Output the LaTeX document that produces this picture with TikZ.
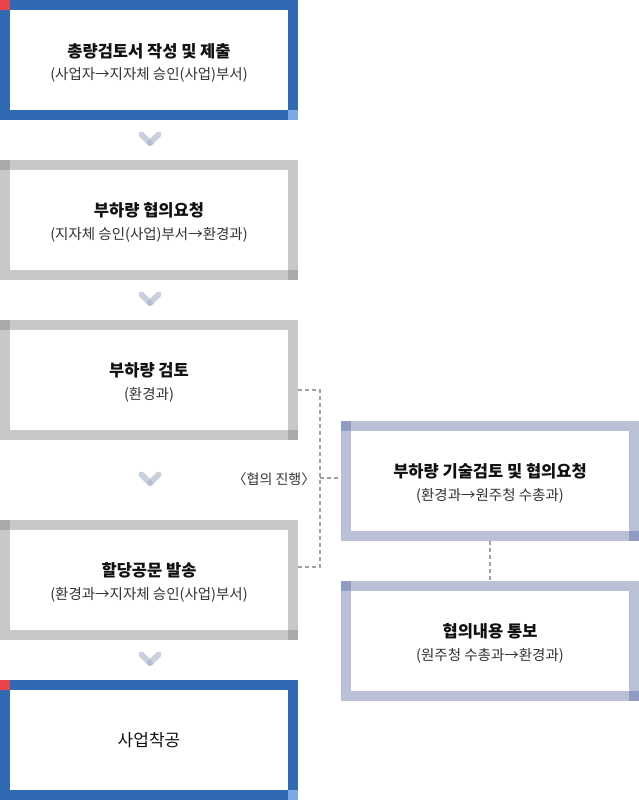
\documentclass[tikz,border=0pt]{standalone}
\usepackage{fontspec}
\setmainfont{Noto Sans CJK KR}
\usetikzlibrary{calc}
\definecolor{blueb}{HTML}{3169B3}
\definecolor{bluelt}{HTML}{7BA8E6}
\definecolor{redc}{HTML}{E9454B}
\definecolor{grayb}{HTML}{C8C8C8}
\definecolor{grayd}{HTML}{A9A9A9}
\definecolor{slateb}{HTML}{BAC1D6}
\definecolor{slated}{HTML}{8F9BC0}
\definecolor{chevc}{HTML}{A7B2C8}
\definecolor{dashc}{HTML}{A0A0A0}
\definecolor{ttlc}{HTML}{111111}
\definecolor{subc}{HTML}{333333}
\tikzset{
  boxbase/.style={minimum width=288pt, minimum height=110pt, line width=10pt,
    fill=white, inner sep=0pt, outer sep=5pt},
  bluebox/.style={boxbase, draw=blueb},
  graybox/.style={boxbase, draw=grayb},
  slatebox/.style={boxbase, draw=slateb},
  ttl/.style={anchor=base, inner sep=0pt, text=ttlc, font=\bfseries\fontsize{16.5pt}{19pt}\selectfont},
  subt/.style={anchor=base, inner sep=0pt, text=subc, font=\fontsize{14.5pt}{17pt}\selectfont},
  dashline/.style={draw=dashc, line width=1.4pt, dash pattern=on 4pt off 3pt},
  chevpic/.pic={
    \draw[chevc, line width=6pt, line cap=round, opacity=0.6] (-8.5,-4.5) -- (0,4);
    \draw[chevc, line width=6pt, line cap=round, opacity=0.6] (8.5,-4.5) -- (0,4);
  }
}
\begin{document}
\begin{tikzpicture}[x=1pt,y=-1pt]
\useasboundingbox (0,0) rectangle (639,800);
% left column boxes
\node[bluebox] (b1) at (149,60) {};
\node[graybox] (b2) at (149,220) {};
\node[graybox] (b3) at (149,380) {};
\node[graybox] (b4) at (149,580) {};
\node[bluebox] (b5) at (149,740) {};
% right column boxes
\node[slatebox] (b6) at (490,481) {};
\node[slatebox] (b7) at (490,641) {};
% corner squares
\fill[redc] (b1.north west) rectangle ++(10,10);
\fill[bluelt] (b1.south east) rectangle ++(-10,-10);
\fill[redc] (b5.north west) rectangle ++(10,10);
\fill[bluelt] (b5.south east) rectangle ++(-10,-10);
\foreach \b in {b2,b3,b4}{
  \fill[grayd] (\b.north west) rectangle ++(10,10);
  \fill[grayd] (\b.south east) rectangle ++(-10,-10);
}
\foreach \b in {b6,b7}{
  \fill[slated] (\b.north west) rectangle ++(10,10);
  \fill[slated] (\b.south east) rectangle ++(-10,-10);
}
% texts
\node[ttl] (t1) at (149,57) {총량검토서 작성 및 제출};
\node[subt] (s1) at (149,79) {(사업자→지자체 승인(사업)부서)};
\node[ttl] (t2) at (149,216) {부하량 협의요청};
\node[subt] (s2) at (149,239) {(지자체 승인(사업)부서→환경과)};
\node[ttl] (t3) at (149,376) {부하량 검토};
\node[subt] (s3) at (149,399) {(환경과)};
\node[ttl] (t4) at (149,576) {할당공문 발송};
\node[subt] (s4) at (149,599) {(환경과→지자체 승인(사업)부서)};
\node[anchor=base, inner sep=0pt, text=ttlc, font=\fontsize{17pt}{20pt}\selectfont] (t5) at (149,746) {사업착공};
\node[ttl] (t6) at (490,477) {부하량 기술검토 및 협의요청};
\node[subt] (s6) at (490,500) {(환경과→원주청 수총과)};
\node[ttl] (t7) at (490,637) {협의내용 통보};
\node[subt] (s7) at (490,660) {(원주청 수총과→환경과)};
% chevrons
\pic at (150,139) {chevpic};
\pic at (150,299) {chevpic};
\pic at (150,479) {chevpic};
\pic at (150,659) {chevpic};
% dashed connectors
\coordinate (jt) at (320,390);
\coordinate (jb) at (320,567);
\coordinate (jm) at (320,478);
\draw[dashline] ($(b3.east)+(0,10)$) -- (jt) -- (jb) -- ($(b4.east)+(0,-13)$);
\draw[dashline] (jm) -- (jm -| b6.west);
\draw[dashline] (b6.south) -- (b7.north);
\node[subt, anchor=center, font=\fontsize{14pt}{17pt}\selectfont] (lbl) at (274,479) {〈협의 진행〉};
\end{tikzpicture}
\end{document}
